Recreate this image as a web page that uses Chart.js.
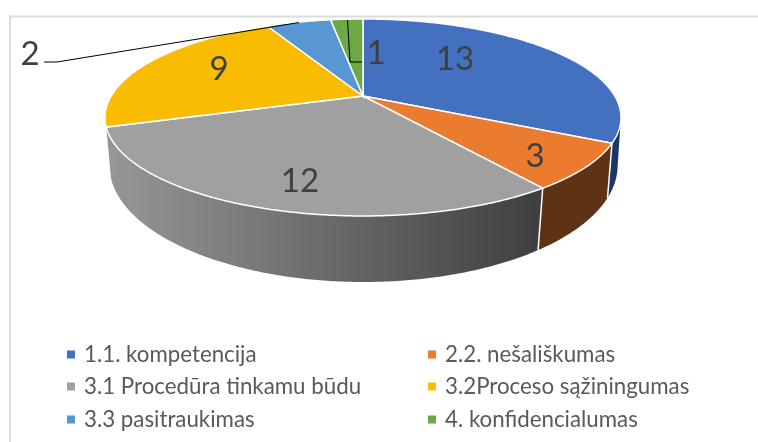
<!DOCTYPE html>
<html><head><meta charset="utf-8">
<style>html,body{margin:0;padding:0;background:#fff}canvas{display:block}</style>
<script src="https://cdn.jsdelivr.net/npm/chart.js@4"></script>
</head><body><canvas id="c" width="758" height="442"></canvas>
<script>
const categories = ['1.1. kompetencija','2.2. nešališkumas','3.1 Procedūra tinkamu būdu','3.2Proceso sąžiningumas','3.3 pasitraukimas','4. konfidencialumas'];
const values = [13,3,12,9,2,1];
const faceColors = ['#4370bf','#ea7b2f','#a0a0a0','#f9bc00','#5897d1','#6ca844'];
const wallColors = ['#1c3766','#5e3214',null,null,null,null];
const labelAnchors = [[455,58],[535,155],[300,180],[219,68],[30,53],[376,52]];
const legendAnchors = [[67,354],[428,354],[67,386],[428,386],[67,419],[428,419]];

const topView = {cx:363, cy:96, a:251.8, b:93.8, k:0.218};
const baseView = {cx:363.5, cy:142, a:249, b:112, k:0.2};
const project = (v, t) => {
  const u = Math.sin(t), d = -Math.cos(t), w = 1 - v.k * d;
  return [v.cx + v.a * u / w, v.cy + v.b * d / w];
};
const arcPath = (ctx, v, t0, t1, move) => {
  const n = Math.max(2, Math.ceil(Math.abs(t1 - t0) / 0.01));
  for (let i = 0; i <= n; i++) {
    const p = project(v, t0 + (t1 - t0) * i / n);
    if (i === 0 && move) ctx.moveTo(p[0], p[1]); else ctx.lineTo(p[0], p[1]);
  }
};
const deg = Math.PI / 180;
const wallFrom = 102 * deg, wallTo = 252 * deg;

const pie3d = {
  id: 'pie3d',
  beforeDraw(chart) {
    const ctx = chart.ctx;
    ctx.save();
    ctx.strokeStyle = '#dcdcdc'; ctx.lineWidth = 2;
    ctx.beginPath(); ctx.moveTo(10, 442); ctx.lineTo(10, 16.5); ctx.lineTo(758, 16.5); ctx.stroke();
    ctx.restore();
  },
  beforeDatasetDraw(chart, args) {
    const ctx = chart.ctx, arcs = chart.getDatasetMeta(args.index).data;
    const angles = arcs.map(a => [a.startAngle + Math.PI / 2, a.endAngle + Math.PI / 2]);
    ctx.save();
    angles.forEach(([s, e], i) => {
      const t0 = Math.max(s, wallFrom), t1 = Math.min(e, wallTo);
      if (t1 <= t0) return;
      let fill = wallColors[i];
      if (!fill) {
        fill = ctx.createLinearGradient(107, 0, 540, 0);
        fill.addColorStop(0, '#979797');
        fill.addColorStop(1, '#3f3f3f');
      }
      ctx.beginPath();
      arcPath(ctx, topView, t0, t1, true);
      arcPath(ctx, baseView, t1, t0, false);
      ctx.closePath();
      ctx.fillStyle = fill; ctx.fill();
    });
    ctx.strokeStyle = '#fff'; ctx.lineWidth = 1.5;
    angles.forEach(([s, e]) => {
      if (e > wallFrom && e < wallTo) {
        const a = project(topView, e), b = project(baseView, e);
        ctx.beginPath(); ctx.moveTo(a[0], a[1]); ctx.lineTo(b[0], b[1]); ctx.stroke();
      }
    });
    angles.forEach(([s, e], i) => {
      ctx.beginPath();
      ctx.moveTo(topView.cx, topView.cy);
      arcPath(ctx, topView, s, e, false);
      ctx.closePath();
      ctx.fillStyle = faceColors[i]; ctx.fill();
      ctx.strokeStyle = '#fff'; ctx.lineWidth = 1.5; ctx.stroke();
    });
    ctx.restore();
    return false;
  },
  afterDraw(chart) {
    const ctx = chart.ctx;
    ctx.save();
    ctx.strokeStyle = '#000'; ctx.lineWidth = 1;
    ctx.beginPath();
    ctx.moveTo(44, 62); ctx.lineTo(57, 62); ctx.lineTo(299, 22.5);
    ctx.moveTo(347.5, 20); ctx.lineTo(350, 62); ctx.lineTo(362, 62);
    ctx.stroke();
    ctx.textAlign = 'center'; ctx.textBaseline = 'middle';
    ctx.font = '33px Lato'; ctx.fillStyle = '#404040';
    values.forEach((v, i) => ctx.fillText(String(v), labelAnchors[i][0], labelAnchors[i][1] + 1));
    ctx.textAlign = 'left';
    ctx.font = '22.3px Lato';
    categories.forEach((name, i) => {
      const [x, y] = legendAnchors[i];
      ctx.fillStyle = faceColors[i];
      ctx.fillRect(x, y - 3.5, 8, 8);
      ctx.fillStyle = '#595959';
      ctx.fillText(name, x + 17, y + 1);
    });
    ctx.restore();
  }
};

new Chart(document.getElementById('c'), {
  type: 'pie',
  data: { labels: categories, datasets: [{ data: values, backgroundColor: faceColors, borderColor: '#fff' }] },
  options: {
    responsive: false,
    animation: false,
    plugins: { legend: { display: false }, tooltip: { enabled: false } }
  },
  plugins: [pie3d]
});
</script></body></html>
